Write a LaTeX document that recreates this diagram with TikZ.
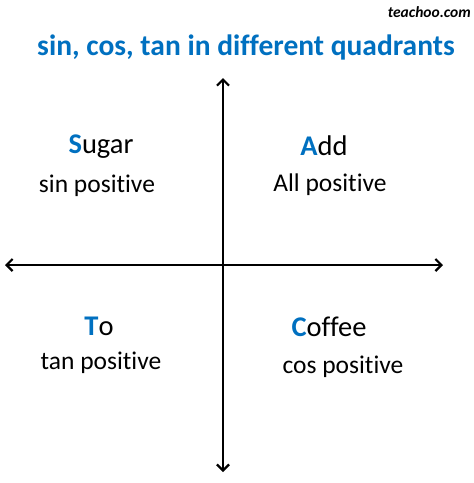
\documentclass[tikz,border=0pt]{standalone}
\usepackage{fontspec}
\setmainfont{Carlito}[Ligatures=NoCommon]
\usetikzlibrary{arrows.meta}
\definecolor{quadblue}{RGB}{0,112,192}
\newcommand{\bluecap}[1]{\textcolor{quadblue}{\textbf{#1}}}
\begin{document}
\begin{tikzpicture}[x=1pt,y=-1pt,
  word/.style={font=\fontsize{28.5}{32}\selectfont, inner sep=0pt},
  rule/.style={font=\fontsize{25.5}{29}\selectfont, inner sep=0pt},
  axis/.style={line width=2.2pt, {Straight Barb[length=6pt,width=12pt]}-{Straight Barb[length=6pt,width=12pt]}}]
\useasboundingbox (0,0) rectangle (474,483);
% title and mark
\node[inner sep=0pt, font=\fontsize{29.5}{33}\selectfont\bfseries, text=quadblue] (title) at (246,47) {sin, cos, tan in different quadrants};
\node[inner sep=0pt, font=\fontsize{15.5}{18}\selectfont\bfseries\itshape, anchor=east] (mark) at (471,12) {teachoo.com};
% axes
\coordinate (left) at (5,265);
\coordinate (right) at (443,265);
\coordinate (top) at (223,78);
\coordinate (bottom) at (223,472);
\draw[axis] (left) -- (right);
\draw[axis] (top) -- (bottom);
% quadrants
\node[word] (sugar) at (101,147) {\bluecap{S}ugar};
\node[rule] (sin) at (97,186) {sin positive};
\node[word] (add) at (324,146) {\bluecap{A}dd};
\node[rule] (all) at (330,185) {All positive};
\node[word] (to) at (99,326) {\bluecap{T}o};
\node[rule] (tan) at (101,363) {tan positive};
\node[word] (coffee) at (329,327) {\bluecap{C}offee};
\node[rule] (cos) at (343,367) {cos positive};
\end{tikzpicture}
\end{document}
